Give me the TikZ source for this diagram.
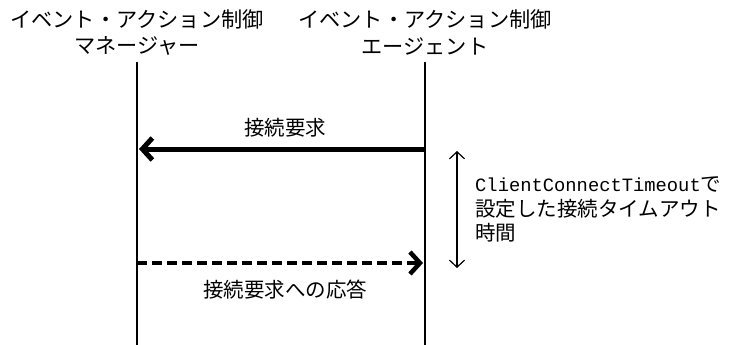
\documentclass[tikz,border=0pt]{standalone}
\usepackage{fontspec}
\setmainfont{Noto Sans CJK JP}
\newfontfamily\monofont{Liberation Mono}
\usetikzlibrary{arrows.meta}
\begin{document}
\begin{tikzpicture}[x=1pt,y=-1pt,
  lbl/.style={inner sep=0pt,font=\fontsize{20.5}{24}\selectfont,anchor=center},
  ttl/.style={inner sep=0pt,font=\fontsize{21.2}{24}\selectfont,anchor=center},
  life/.style={line width=1.3pt},
  req/.style={line width=5pt,-{Straight Barb[length=10pt,width=22pt]}},
  resp/.style={line width=4.5pt,dash pattern=on 10pt off 5pt,-{Straight Barb[length=10pt,width=22pt]}},
  span/.style={line width=1.2pt,{Straight Barb[length=7pt,width=15pt]}-{Straight Barb[length=7pt,width=15pt]}}]
\useasboundingbox (0,0) rectangle (729,345);
% titles
\node[ttl] (m1) at (137,19) {イベント・アクション制御};
\node[ttl] (m2) at (137,46) {マネージャー};
\node[ttl] (a1) at (425,19) {イベント・アクション制御};
\node[ttl] (a2) at (425,46) {エージェント};
% lifelines
\coordinate (mt) at (137,62);
\coordinate (mb) at (137,345);
\coordinate (at) at (425,62);
\coordinate (ab) at (425,345);
\draw[life] (mt) -- (mb);
\draw[life] (at) -- (ab);
% request
\coordinate (r1s) at (425,149);
\coordinate (r1e) at (139,149);
\draw[req] (r1s) -- (r1e);
\node[lbl] (l1) at (285,128) {接続要求};
% response
\coordinate (r2s) at (137,263);
\coordinate (r2e) at (423,263);
\draw[resp] (r2s) -- (r2e);
\node[lbl] (l2) at (285,290) {接続要求への応答};
% timeout span
\coordinate (ts) at (457,151);
\coordinate (te) at (457,268);
\draw[span] (ts) -- (te);
\node[inner sep=0pt,anchor=west,font=\fontsize{20.5}{24}\selectfont] (t1) at (475,184) {{\monofont\fontsize{18.8}{24}\selectfont ClientConnectTimeout}で};
\node[inner sep=0pt,anchor=west,font=\fontsize{20.5}{24}\selectfont] (t2) at (475,209) {設定した接続タイムアウト};
\node[inner sep=0pt,anchor=west,font=\fontsize{20.5}{24}\selectfont] (t3) at (475,233) {時間};
\end{tikzpicture}
\end{document}
